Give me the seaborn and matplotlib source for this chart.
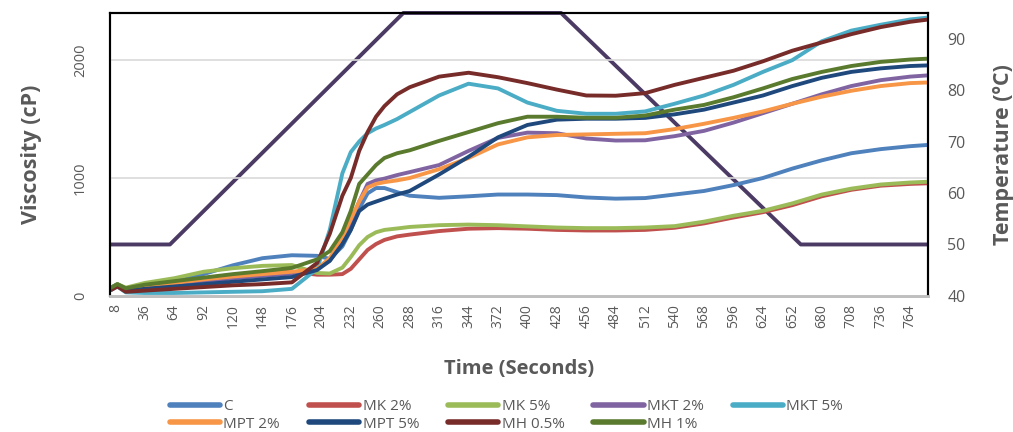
import numpy as np
import pandas as pd
import matplotlib
matplotlib.use('Agg')
import matplotlib.pyplot as plt
import seaborn as sns

sns.set_theme(style='white')
plt.rcParams['font.family'] = ['Open Sans', 'DejaVu Sans']

# time grid (s)
time_s = [4, 10, 18, 36, 64, 92, 120, 148, 176, 200, 212, 224, 232, 240, 248, 256, 264,
          276, 288, 316, 344, 372, 400, 428, 456, 484, 512, 540, 568, 596, 624, 652,
          680, 708, 736, 764, 780]

visc_c = [70, 100, 60, 75, 120, 185, 260, 320, 345, 340, 314, 420, 560, 740, 870, 915, 915,
          880, 850, 832, 845, 860, 860, 855, 835, 825, 830, 860, 890, 940, 1000, 1080,
          1150, 1210, 1245, 1270, 1280]
visc_mk2 = [60, 90, 50, 70, 110, 150, 175, 195, 205, 180, 180, 185, 230, 310, 390, 440, 475,
            505, 520, 550, 570, 575, 570, 560, 555, 555, 560, 578, 615, 665, 710, 770,
            845, 900, 935, 950, 955]
visc_mk5 = [70, 100, 70, 110, 150, 205, 235, 255, 262, 195, 190, 240, 330, 430, 500, 540, 560,
            572, 585, 600, 605, 600, 590, 580, 575, 575, 580, 592, 630, 680, 722, 785,
            860, 910, 945, 962, 968]
visc_mkt2 = [60, 90, 50, 70, 90, 120, 150, 170, 190, 240, 300, 450, 620, 800, 950, 980, 995,
             1025, 1050, 1110, 1230, 1340, 1385, 1380, 1335, 1318, 1320, 1355, 1400, 1470,
             1550, 1630, 1710, 1780, 1830, 1860, 1870]
visc_mkt5 = [50, 80, 30, 25, 25, 30, 35, 40, 60, 230, 560, 1040, 1220, 1310, 1380, 1420, 1450,
             1500, 1560, 1700, 1800, 1760, 1640, 1570, 1545, 1545, 1565, 1630, 1700, 1790,
             1900, 2000, 2160, 2250, 2300, 2345, 2360]
visc_mpt2 = [60, 90, 55, 80, 110, 140, 165, 185, 205, 230, 320, 500, 650, 800, 920, 950, 965,
             980, 1000, 1075, 1170, 1285, 1345, 1365, 1370, 1375, 1380, 1415, 1460, 1510,
             1565, 1630, 1690, 1740, 1780, 1805, 1810]
visc_mpt5 = [60, 90, 45, 60, 80, 100, 120, 140, 160, 220, 297, 440, 560, 720, 775, 800, 825,
             860, 890, 1030, 1180, 1345, 1450, 1495, 1503, 1503, 1510, 1540, 1580, 1640,
             1700, 1780, 1850, 1900, 1930, 1950, 1955]
visc_mh05 = [50, 80, 35, 45, 60, 75, 90, 100, 115, 280, 526, 850, 1000, 1230, 1390, 1520, 1610,
             1710, 1770, 1860, 1893, 1855, 1805, 1750, 1700, 1698, 1720, 1790, 1850, 1910,
             1990, 2080, 2150, 2220, 2280, 2325, 2343]
visc_mh1 = [70, 100, 65, 95, 125, 155, 185, 210, 238, 310, 380, 540, 720, 950, 1030, 1110, 1170,
            1210, 1235, 1315, 1390, 1465, 1520, 1520, 1511, 1511, 1530, 1580, 1620, 1685,
            1760, 1840, 1900, 1950, 1985, 2005, 2012]

temp_time = [4, 60, 282, 432, 660, 780]
temp_c = [50, 50, 95, 95, 50, 50]

names = ['C', 'MK 2%', 'MK 5%', 'MKT 2%', 'MKT 5%', 'MPT 2%', 'MPT 5%', 'MH 0.5%', 'MH 1%']
colors = ['#4F81BD', '#C0504D', '#9BBB59', '#8064A2', '#4BACC6', '#F79646', '#1F497D',
          '#772C2A', '#5A7A2E']
series = [visc_c, visc_mk2, visc_mk5, visc_mkt2, visc_mkt5, visc_mpt2, visc_mpt5,
          visc_mh05, visc_mh1]

df = pd.concat([pd.DataFrame({'time': time_s, 'visc': v, 'sample': n})
                for n, v in zip(names, series)], ignore_index=True)
temp_df = pd.DataFrame({'time': temp_time, 'temp': temp_c})

fig = plt.figure(figsize=(10.13, 4.32), dpi=100)
ax = fig.add_axes([0.1086, 0.315, 0.8075, 0.655])
ax2 = ax.twinx()

grey = '#595959'

ax.set_zorder(2)
ax.patch.set_visible(False)
sns.lineplot(data=temp_df, x='time', y='temp', ax=ax2, color='#4B3A63', lw=2.8,
             legend=False, clip_on=False)
sns.lineplot(data=df, x='time', y='visc', hue='sample', hue_order=names,
             palette=dict(zip(names, colors)), ax=ax, lw=2.8, legend=False)

ax.set_xlim(3, 781)
ax.set_ylim(0, 2400)
ax2.set_ylim(40, 95)
ax.set_yticks([0, 1000, 2000])
ax2.set_yticks([40, 50, 60, 70, 80, 90])
ax.set_xticks(np.arange(8, 765, 28))
ax.tick_params(axis='x', labelrotation=90, labelsize=10, colors=grey, length=0, pad=6)
ax.tick_params(axis='y', labelsize=10.5, colors=grey, length=0, pad=16)
for lab in ax.get_yticklabels():
    lab.set_rotation(90)
    lab.set_va('center')
ax2.tick_params(axis='y', labelsize=11.5, colors=grey, length=0, pad=14)
ax.grid(axis='y', color='#D9D9D9', lw=1.2)
ax.grid(axis='x', visible=False)
ax2.grid(False)

for a in (ax, ax2):
    for side in ('left', 'right', 'top'):
        a.spines[side].set_color('black')
        a.spines[side].set_linewidth(1.5)
    a.spines['bottom'].set_color('#BFBFBF')
    a.spines['bottom'].set_linewidth(2)

ax.set_xlabel('Time (Seconds)', fontsize=14.5, fontweight='bold', color=grey, labelpad=22)
ax.set_ylabel('Viscosity (cP)', fontsize=15.5, fontweight='bold', color=grey, labelpad=22)
ax2.set_ylabel('Temperature (ºC)', fontsize=15.5, fontweight='bold', color=grey, labelpad=20)

handles = [plt.Line2D([], [], color=c, lw=4) for c in colors]
order = [0, 5, 1, 6, 2, 7, 3, 8, 4]
fig.legend([handles[i] for i in order], [names[i] for i in order], ncol=5,
           loc='upper center', bbox_to_anchor=(0.5, 0.1), frameon=False,
           fontsize=11, handlelength=3.3, handletextpad=0.2, columnspacing=1.9,
           labelspacing=0.15, labelcolor=grey, borderpad=0.2)

fig.savefig('out.png', dpi=100)
